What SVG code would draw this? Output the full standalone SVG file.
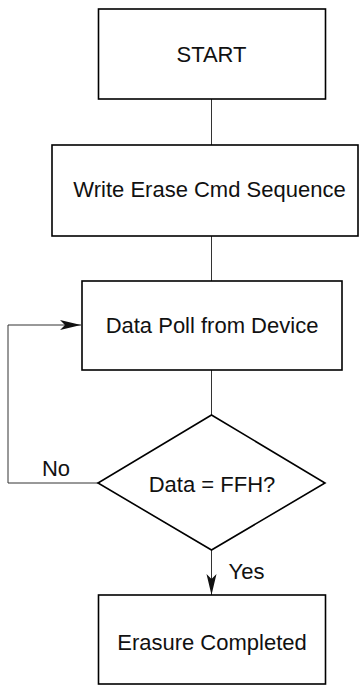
<svg xmlns="http://www.w3.org/2000/svg" width="359" height="686" viewBox="0 0 359 686">
<style>
.box{fill:#fff;stroke:#000;stroke-width:1.6}
.ln{fill:none;stroke:#333;stroke-width:1}
text{font-family:"Liberation Sans",Arial,sans-serif;font-size:22px;fill:#111;text-anchor:middle}
</style>
<defs>
<marker id="ah" markerUnits="userSpaceOnUse" markerWidth="22" markerHeight="12" viewBox="0 0 22 12" refX="21" refY="6" orient="auto">
<path d="M0,1 L21,6 L0,11 L5,6 Z" fill="#111"/>
</marker>
</defs>
<rect width="359" height="686" fill="#fff"/>
<g id="connectors">
<line class="ln" x1="211.5" y1="99" x2="211.5" y2="145"/>
<line class="ln" x1="211.5" y1="236" x2="211.5" y2="281"/>
<line class="ln" x1="211.5" y1="370" x2="211.5" y2="415"/>
<polyline class="ln" points="98,483 8,483 8,325 81,325" marker-end="url(#ah)"/>
<line class="ln" x1="211.5" y1="550" x2="211.5" y2="595" marker-end="url(#ah)"/>
<text x="56" y="476">No</text>
<text x="246.5" y="579">Yes</text>
</g>
<g id="start">
<rect class="box" x="98.5" y="9" width="227" height="90"/>
<text x="211.5" y="62">START</text>
</g>
<g id="write">
<rect class="box" x="52" y="145" width="306" height="91"/>
<text x="209.5" y="197">Write Erase Cmd Sequence</text>
</g>
<g id="poll">
<rect class="box" x="82" y="281" width="260" height="89"/>
<text x="212" y="333">Data Poll from Device</text>
</g>
<g id="decision">
<polygon class="box" points="211.5,415 325,483 211.5,550 98,483"/>
<text x="212" y="492">Data = FFH?</text>
</g>
<g id="done">
<rect class="box" x="98.5" y="595" width="227" height="89"/>
<text x="212" y="650">Erasure Completed</text>
</g>
</svg>
